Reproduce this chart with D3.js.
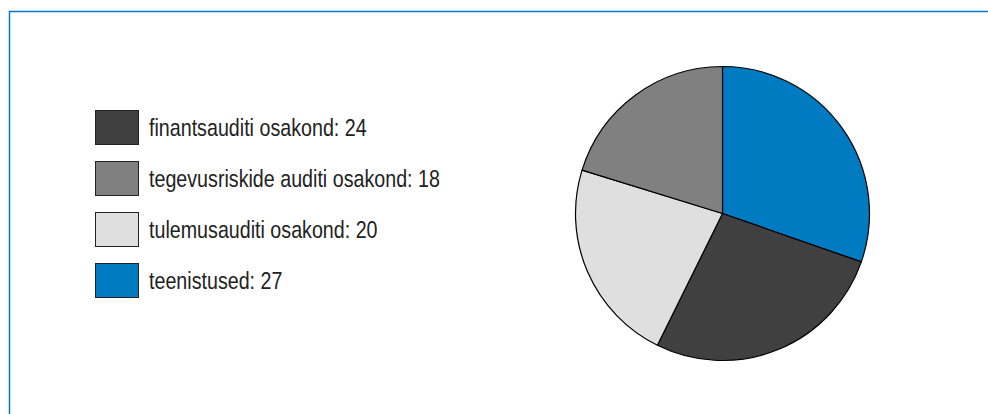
<!DOCTYPE html>
<html>
<head>
<meta charset="utf-8">
<script src="https://cdn.jsdelivr.net/npm/d3@7"></script>
<style>
  html, body { margin: 0; padding: 0; background: #fff; }
  svg { display: block; }
  .legend text { font-family: "Liberation Sans", Arial, Helvetica, sans-serif; font-size: 24px; fill: #222; }
</style>
</head>
<body>
<svg id="chart" width="988" height="414"></svg>
<script>
// Staff by department
const categories = ["finantsauditi osakond", "tegevusriskide auditi osakond", "tulemusauditi osakond", "teenistused"];
const values = [24, 18, 20, 27];
const colors = ["#404040", "#808080", "#dfdfdf", "#007bc2"];
// Slice order, clockwise from 12 o'clock
const sliceOrder = [3, 0, 2, 1];

const svg = d3.select("#chart");
const W = 988, H = 414;

// frame lines (top and left)
svg.append("path")
  .attr("d", `M9.5,${H} V11.5 H${W}`)
  .attr("fill", "none")
  .attr("stroke", "#0a78c8")
  .attr("stroke-width", 1.5);

// legend
const legend = svg.append("g").attr("class", "legend");
const ly = d3.scaleBand().domain(d3.range(categories.length)).range([110.5, 314.5]).paddingInner(0);
categories.forEach((c, i) => {
  const y = ly(i);
  legend.append("rect")
    .attr("x", 95.5).attr("y", y)
    .attr("width", 43).attr("height", 34)
    .attr("fill", colors[i]).attr("stroke", "#222").attr("stroke-width", 1);
  // condensed label
  legend.append("g")
    .attr("transform", `translate(149,${y + 17}) scale(0.82,1)`)
    .append("text")
    .attr("dy", "0.36em")
    .text(`${c}: ${values[i]}`);
});

// pie
const cx = 722.5, cy = 213.5, r = 147;
const pie = d3.pie().sort(null).value(i => values[i]);
const arc = d3.arc().innerRadius(0).outerRadius(r);
svg.append("g")
  .attr("transform", `translate(${cx},${cy})`)
  .selectAll("path")
  .data(pie(sliceOrder))
  .join("path")
  .attr("d", arc)
  .attr("fill", d => colors[d.data])
  .attr("stroke", "#000")
  .attr("stroke-width", 1.2)
  .attr("stroke-linejoin", "round");
</script>
</body>
</html>
